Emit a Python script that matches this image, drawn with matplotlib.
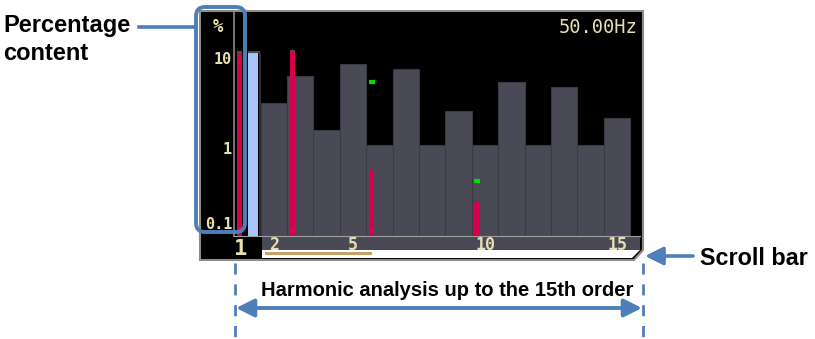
import matplotlib
matplotlib.use('Agg')
import matplotlib.pyplot as plt
import matplotlib.transforms as mtransforms
from matplotlib.patches import Polygon, Rectangle, FancyBboxPatch, FancyArrowPatch
from matplotlib.lines import Line2D
from matplotlib.ticker import NullLocator

# harmonic orders shown on the screen and their percentage content (log scale)
limit_orders = [2, 3, 4, 5, 6, 7, 8, 9, 10, 11, 12, 13, 14, 15]
limit_pct = [3.2, 6.3, 1.6, 8.5, 1.08, 7.5, 1.08, 2.6, 1.08, 5.4, 1.08, 4.8, 1.08, 2.15]
measured_orders = [1, 3, 6, 10]
measured_pct = [11.4, 11.7, 0.58, 0.26]
reference_orders = [1]
reference_pct = [11.4]
peak_orders = [1, 3]
peak_pct = [11.6, 12.0]
marker_orders = [6, 10]
marker_pct = [5.4, 0.43]
xtick_orders = [2, 5, 10, 15]
ytick_pct = [1, 10]
ytick_labels = ['1', '10']
bottom_label = '0.1'
freq_label = '50.00Hz'

W, H = 815, 339
PALE = '#e6e0b0'
BLUE = '#4f7fba'

plt.rcParams['font.family'] = ['DejaVu Sans Mono']
plt.rcParams['font.weight'] = 'bold'

#*******************************************************************************
def draw_screen(fig, PX):
    # black instrument screen with the bevelled bottom-right corner
    fig.add_artist(Polygon([(200, 11), (643, 11), (643, 250), (634, 260), (200, 260)],
                           closed=True, transform=PX, facecolor='black',
                           edgecolor='#8c8c8c', lw=1.5, zorder=-2))
    # scroll strip under the bars
    fig.add_artist(Rectangle((262, 236), 378, 14, transform=PX, facecolor='#4a4a56',
                             edgecolor='none', zorder=-1))
    fig.add_artist(Polygon([(262, 250), (640, 250), (632, 258), (262, 258)], closed=True,
                           transform=PX, facecolor='white', edgecolor='none', zorder=-1))
    fig.add_artist(Rectangle((265, 252), 107, 3, transform=PX, facecolor='#c8a06a',
                             edgecolor='none', zorder=-1))
    fig.text(241, 249, '1', transform=PX, ha='center', va='center', fontsize=16,
             color=PALE)
    fig.text(218, 27, '%', transform=PX, ha='center', va='center', fontsize=12.5,
             color=PALE)

#*******************************************************************************
def draw_bars(fig):
    ax = fig.add_axes([234 / W, 1 - 236 / H, 406 / W, 224 / H])
    ax.set_facecolor('black')
    ax.set_yscale('log')
    ymin, ymax = 10 ** -0.978, 10 ** 1.511
    ax.set_ylim(ymin, ymax)
    ax.set_xlim(0.49, 15.87)

    ax.bar(limit_orders, [v - ymin for v in limit_pct], bottom=ymin, width=1.0,
           color='#4a4a56', edgecolor='#3a3a44', linewidth=0.8, zorder=1)
    ax.bar([o + 0.21 for o in reference_orders], [v - ymin for v in reference_pct],
           bottom=ymin, width=0.38, color='#a8c4f8', zorder=2)
    ax.vlines([o + 0.47 for o in reference_orders], ymin, reference_pct,
              colors='#2c2c38', lw=1.5, zorder=2)
    ax.bar([o - 0.3 for o in measured_orders], [v - ymin for v in measured_pct],
           bottom=ymin, width=0.2, color='#d8004c', zorder=3)
    ax.hlines(peak_pct, [o - 0.4 for o in peak_orders], [o - 0.2 for o in peak_orders],
              colors='#4c4c5a', lw=1.5, zorder=4)
    ax.hlines([v * 1.02 for v in reference_pct], [o + 0.02 for o in reference_orders],
              [o + 0.47 for o in reference_orders], colors='#4c4c5a', lw=1.5, zorder=4)
    ax.hlines(marker_pct, [o - 0.4 for o in marker_orders], [o - 0.18 for o in marker_orders],
              colors='#00e000', lw=3, zorder=4)

    ax.set_xticks(xtick_orders)
    ax.set_xticklabels([str(o) for o in xtick_orders])
    ax.set_yticks(ytick_pct)
    ax.set_yticklabels(ytick_labels)
    ax.yaxis.set_minor_locator(NullLocator())
    ax.tick_params(axis='both', length=0, labelcolor=PALE)
    ax.tick_params(axis='x', pad=0, labelsize=12)
    ax.tick_params(axis='y', pad=1.5, labelsize=11)
    ax.annotate(bottom_label, xy=(0, 0.1), xycoords=ax.get_yaxis_transform(),
                xytext=(-2, 6), textcoords='offset pixels', ha='right', va='bottom',
                fontsize=11, color=PALE, annotation_clip=False)
    ax.text(0.9926, 0.975, freq_label, transform=ax.transAxes, ha='right', va='top',
            fontsize=13.5, color=PALE, fontweight='normal')

    for side in ('top', 'right'):
        ax.spines[side].set_visible(False)
    ax.spines['left'].set_color('#8a8a8a')
    ax.spines['left'].set_linewidth(1.2)
    ax.spines['bottom'].set_color('#a0a0a0')
    return ax

#*******************************************************************************
def draw_callouts(fig, PX):
    sans = dict(family=['Liberation Sans', 'DejaVu Sans'], fontweight='bold', color='black')
    fig.text(3, 31.7, 'Percentage', transform=PX, va='baseline', fontsize=17, **sans)
    fig.text(3, 60, 'content', transform=PX, va='baseline', fontsize=17, **sans)
    fig.add_artist(Line2D([139, 195], [27, 27], transform=PX, color=BLUE, lw=2.6))
    fig.add_artist(FancyBboxPatch((196, 7), 49, 225, transform=PX,
                                  boxstyle='round,pad=0,rounding_size=9',
                                  facecolor='none', edgecolor=BLUE, lw=2.8, zorder=5))

    fig.text(700, 265, 'Scroll bar', transform=PX, va='baseline', fontsize=16.8, **sans)
    fig.add_artist(FancyArrowPatch((693, 256), (645, 256), transform=PX,
                                   arrowstyle='-|>,head_length=0.6,head_width=0.3',
                                   mutation_scale=18, color=BLUE, lw=2.6,
                                   shrinkA=0, shrinkB=0))

    for x in (235, 643):
        fig.add_artist(Line2D([x, x], [263, 339], transform=PX, color=BLUE, lw=2.0,
                              linestyle=(0, (4, 3.5))))
    fig.add_artist(FancyArrowPatch((236, 308), (642, 308), transform=PX,
                                   arrowstyle='<|-|>,head_length=0.6,head_width=0.3',
                                   mutation_scale=18, color=BLUE, lw=2.8,
                                   shrinkA=0, shrinkB=0))
    fig.text(447, 296, 'Harmonic analysis up to the 15th order', transform=PX,
             ha='center', va='baseline', fontsize=14.5, **sans)

#*******************************************************************************
if __name__ == "__main__":
    fig = plt.figure(figsize=(W / 100, H / 100), dpi=100)
    # pixel coordinates measured from the top-left corner of the picture
    PX = mtransforms.Affine2D().scale(1 / 100, -1 / 100).translate(0, H / 100) \
        + fig.dpi_scale_trans
    draw_screen(fig, PX)
    draw_bars(fig)
    draw_callouts(fig, PX)
    fig.savefig('out.png', dpi=100, facecolor='white')
